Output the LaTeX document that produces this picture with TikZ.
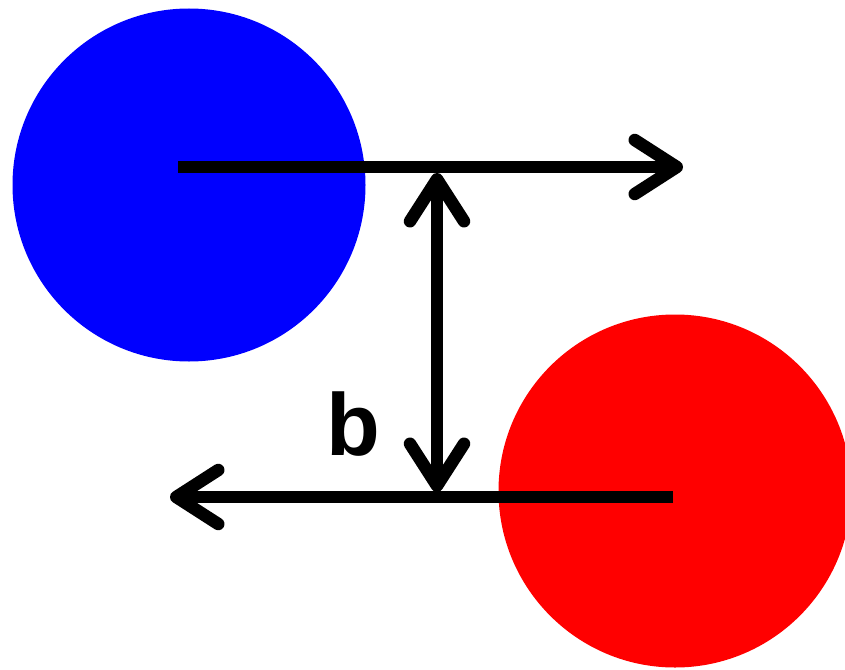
\documentclass[tikz,border=0pt]{standalone}
\usepackage{fontspec}
\setmainfont{Liberation Sans}
\usetikzlibrary{arrows.meta}
\begin{document}
\begin{tikzpicture}[x=1pt,y=-1pt,
  ball/.style={circle,minimum size=353pt,inner sep=0pt,draw=none},
  tipbarb/.tip={Straight Barb[length=42pt,width=54pt,line cap=round,line join=round]},
  bigarrow/.style={line width=12.5pt,-tipbarb},
  dblarrow/.style={line width=12.5pt,tipbarb-tipbarb}
]
\useasboundingbox (0,0) rectangle (845,669);
\fill[white] (0,0) rectangle (845,669);
\node[ball,fill={rgb,255:red,0;green,0;blue,255}] (blue) at (189,185) {};
\node[ball,fill={rgb,255:red,255;green,0;blue,0}] (red) at (675,491) {};
\coordinate (t1) at (178,167);
\coordinate (t2) at (683,167);
\coordinate (b1) at (673,497);
\coordinate (b2) at (170,497);
\coordinate (v1) at (437,173);
\coordinate (v2) at (437,492);
\draw[bigarrow] (t1) -- (t2);
\draw[bigarrow] (b1) -- (b2);
\draw[dblarrow] (v1) -- (v2);
\node[font=\bfseries\fontsize{88}{88}\selectfont,inner sep=0pt,anchor=base] (lab) at (353,455) {b};
\end{tikzpicture}
\end{document}
